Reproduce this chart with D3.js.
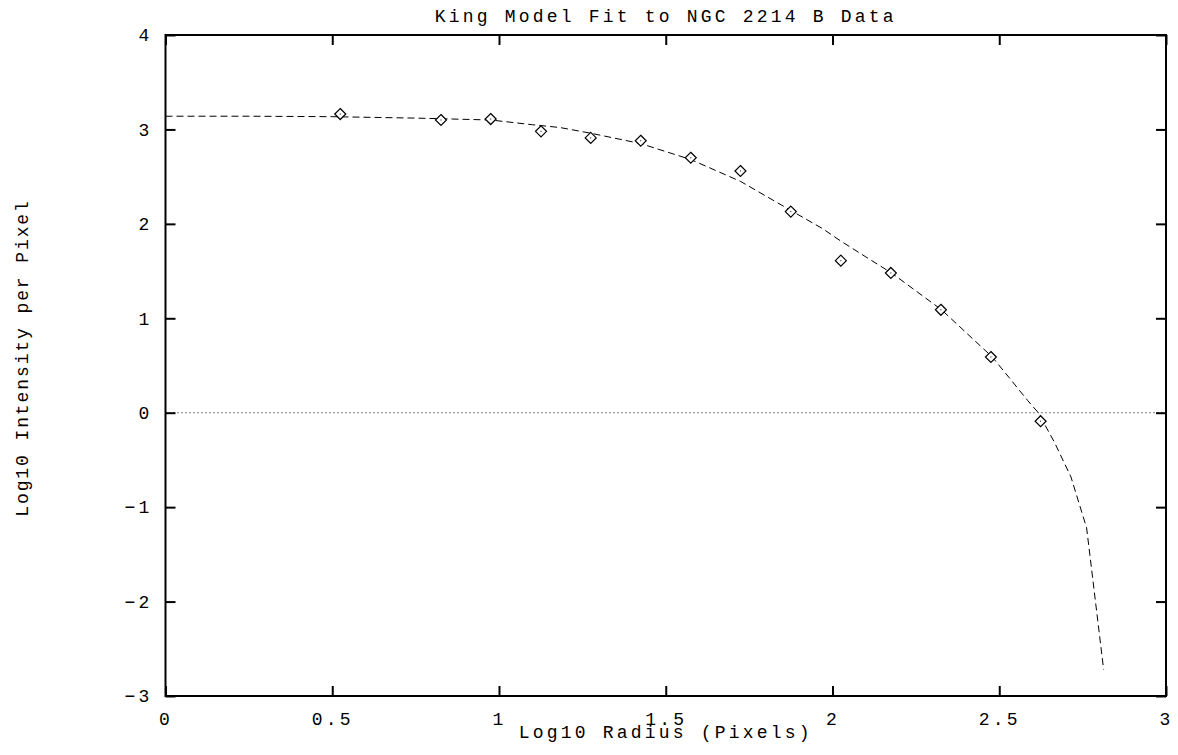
<!DOCTYPE html>
<html>
<meta charset=utf-8>
<head>
<style>
  body { margin: 0; background: #fff; }
  text { font-family: "Liberation Mono", "DejaVu Sans Mono", monospace; }
</style>
</head>
<body>
<svg id="canvas" width="1178" height="755"></svg>
<script src="https://d3js.org/d3.v7.min.js"></script>
<script>

// observed profile: log10 radius vs log10 intensity per pixel
var dataX = [0.524, 0.826, 0.975, 1.126, 1.275, 1.425, 1.575, 1.724, 1.875, 2.025, 2.175, 2.325, 2.475, 2.624]
var dataY = [3.163, 3.10, 3.11, 2.98, 2.91, 2.88, 2.70, 2.56, 2.13, 1.61, 1.48, 1.09, 0.59, -0.09]

// King model curve
var modelX = [0, 0.25, 0.5, 0.75, 0.975, 1.1, 1.183, 1.275, 1.425, 1.576, 1.724, 1.876, 1.97, 2.024, 2.1, 2.177, 2.25, 2.327, 2.4, 2.479, 2.53, 2.585, 2.617, 2.665, 2.715, 2.762, 2.813]
var modelY = [3.14, 3.14, 3.135, 3.12, 3.10, 3.05, 3.02, 2.96, 2.85, 2.68, 2.45, 2.14, 1.95, 1.82, 1.65, 1.48, 1.29, 1.09, 0.85, 0.59, 0.37, 0.13, 0.0, -0.31, -0.68, -1.22, -2.72]

var xTicks = [0, 0.5, 1, 1.5, 2, 2.5, 3]
var yTicks = [-3, -2, -1, 0, 1, 2, 3, 4]

var title = 'King Model Fit to NGC 2214 B Data'
var xTitle = 'Log10 Radius (Pixels)'
var yTitle = 'Log10 Intensity per Pixel'

var plotL = 165.5, plotR = 1166, plotT = 35, plotB = 696

var svg = d3.select('#canvas')

var x = d3.scaleLinear().domain([0, 3]).range([plotL, plotR])
var y = d3.scaleLinear().domain([-3, 4]).range([plotB, plotT])

var fmt = function(d) { return String(d).replace('-', '\u2212') }

function styleAxis(g) {
  g.select('.domain').remove()
  g.selectAll('.tick line').attr('stroke', '#000').attr('stroke-width', 2)
  g.selectAll('.tick text')
    .attr('fill', '#000')
    .style('font-size', '18px')
    .style('letter-spacing', '3.2px')
}

svg.append('g')
  .attr('transform', 'translate(0,' + plotB + ')')
  .call(d3.axisBottom(x).tickValues(xTicks).tickFormat(fmt).tickSize(-10).tickPadding(16))
  .call(styleAxis)

svg.append('g')
  .attr('transform', 'translate(0,' + plotT + ')')
  .call(d3.axisTop(x).tickValues(xTicks).tickFormat('').tickSize(-10))
  .call(styleAxis)

svg.append('g')
  .attr('transform', 'translate(' + plotL + ',0)')
  .call(d3.axisLeft(y).tickValues(yTicks).tickFormat(fmt).tickSize(-10).tickPadding(13))
  .call(styleAxis)

svg.append('g')
  .attr('transform', 'translate(' + plotR + ',0)')
  .call(d3.axisRight(y).tickValues(yTicks).tickFormat('').tickSize(-10))
  .call(styleAxis)

// frame
svg.append('rect')
  .attr('x', plotL).attr('y', plotT)
  .attr('width', plotR - plotL).attr('height', plotB - plotT)
  .attr('fill', 'none').attr('stroke', '#000').attr('stroke-width', 2)

// zero line
svg.append('line')
  .attr('x1', plotL).attr('x2', plotR)
  .attr('y1', y(0)).attr('y2', y(0))
  .attr('stroke', '#000').attr('stroke-width', 1)
  .attr('stroke-dasharray', '1,3')

// model curve
var model = modelX.map(function(d, i) { return [d, modelY[i]] })
svg.append('path')
  .datum(model)
  .attr('fill', 'none')
  .attr('stroke', '#000')
  .attr('stroke-width', 1)
  .attr('stroke-dasharray', '7,4')
  .attr('d', d3.line()
    .x(function(d) { return x(d[0]) })
    .y(function(d) { return y(d[1]) }))

// data points: diamonds with a centre dot
var pts = dataX.map(function(d, i) { return [d, dataY[i]] })
var g = svg.append('g').selectAll('g')
  .data(pts)
  .enter().append('g')
  .attr('transform', function(d) { return 'translate(' + x(d[0]) + ',' + y(d[1]) + ')' })

g.append('path')
  .attr('d', 'M0,-5.5L5.5,0L0,5.5L-5.5,0Z')
  .attr('fill', '#fff')
  .attr('stroke', '#000')
  .attr('stroke-width', 1.2)

g.append('rect')
  .attr('x', -0.5).attr('y', -0.5)
  .attr('width', 1).attr('height', 1)
  .attr('fill', '#000')

// titles
svg.append('text')
  .attr('x', (plotL + plotR) / 2).attr('y', 22)
  .attr('text-anchor', 'middle')
  .style('font-size', '18px').style('letter-spacing', '3.2px')
  .text(title)

svg.append('text')
  .attr('x', (plotL + plotR) / 2).attr('y', 738)
  .attr('text-anchor', 'middle')
  .style('font-size', '18px').style('letter-spacing', '3.2px')
  .text(xTitle)

svg.append('text')
  .attr('transform', 'translate(28,358) rotate(-90)')
  .attr('text-anchor', 'middle')
  .style('font-size', '18px').style('letter-spacing', '1.9px')
  .text(yTitle)

</script>
</body>
</html>
